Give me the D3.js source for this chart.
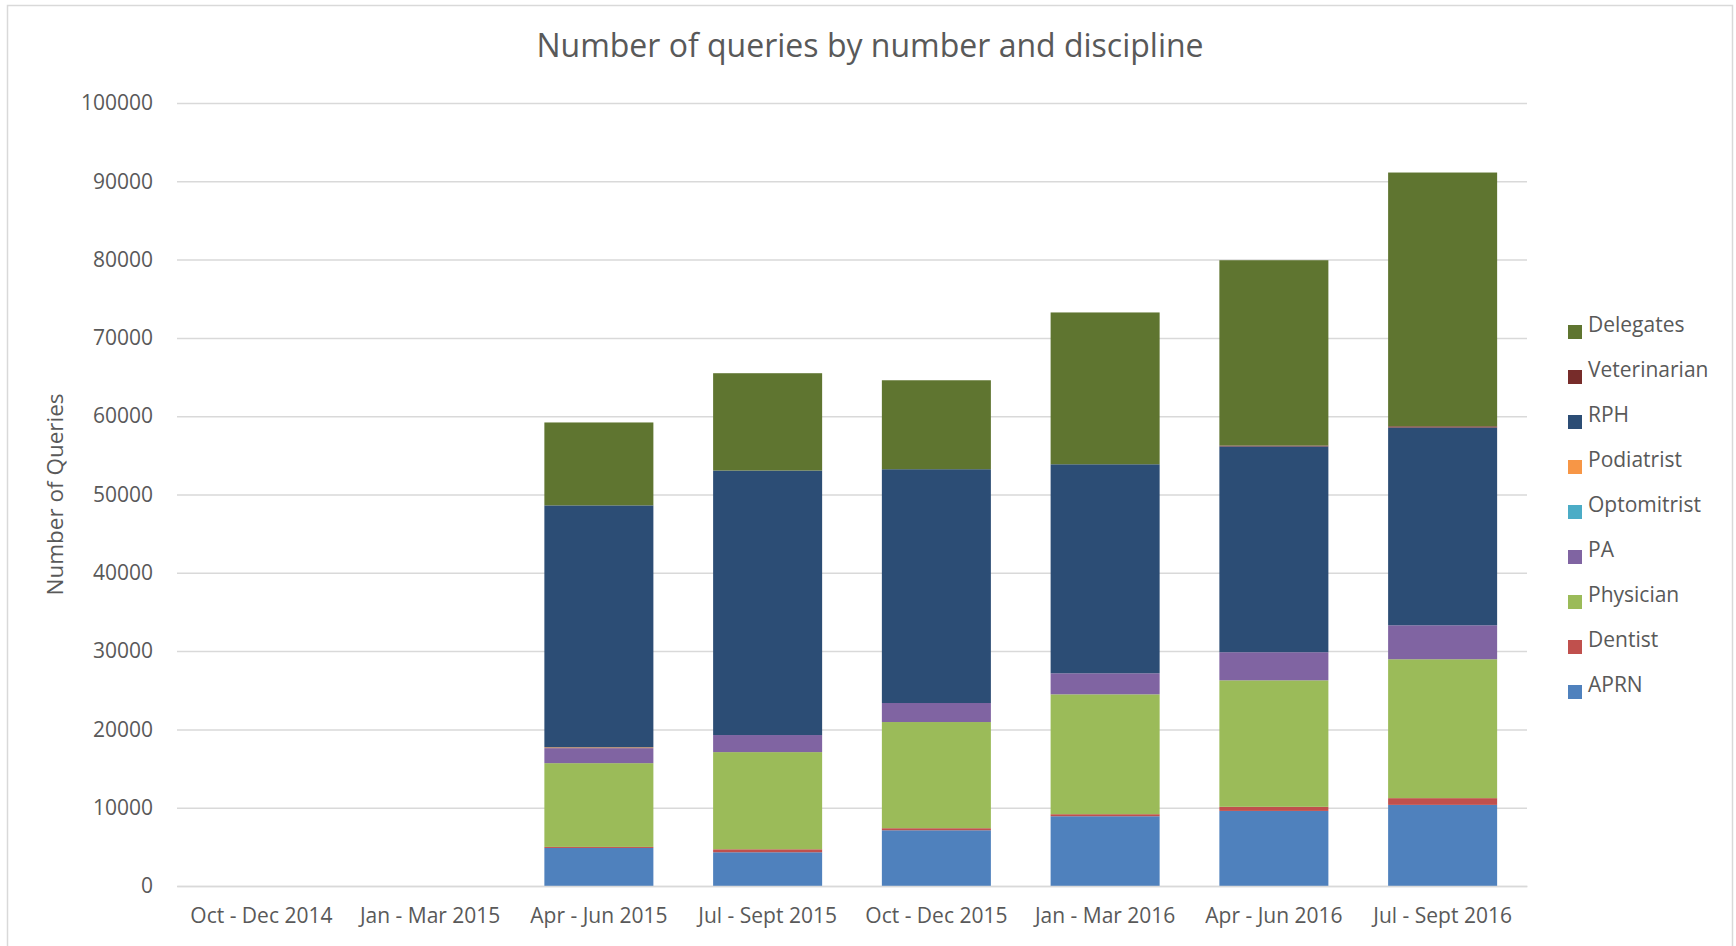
<!DOCTYPE html>
<html>
<head>
<meta charset="utf-8">
<script src="https://cdn.jsdelivr.net/npm/d3@7"></script>
<style>
  body { margin: 0; background: #fff; }
  text { font-family: "Open Sans", sans-serif; fill: #595959; }
</style>
</head>
<body>
<div id="chart"></div>
<script>
// categories along the x axis
const quarters = ['Oct - Dec 2014', 'Jan - Mar 2015', 'Apr - Jun 2015', 'Jul - Sept 2015',
  'Oct - Dec 2015', 'Jan - Mar 2016', 'Apr - Jun 2016', 'Jul - Sept 2016'];

// series, bottom of the stack first
const disciplines = ['APRN', 'Dentist', 'Physician', 'PA', 'Optomitrist', 'Podiatrist', 'RPH', 'Veterinarian', 'Delegates'];
const colors = ['#4f81bd', '#c0504d', '#9bbb59', '#8064a2', '#4bacc6', '#f79646', '#2c4d75', '#772c2a', '#5f7530'];

// values per discipline, one per quarter
const APRN         = [0, 0, 4860, 4310, 7120, 8910, 9590, 10360];
const Dentist      = [0, 0, 130, 380, 260, 260, 520, 860];
const Physician    = [0, 0, 10700, 12410, 13560, 15310, 16160, 17740];
const PA           = [0, 0, 1920, 2180, 2430, 2690, 3590, 4340];
const Optomitrist  = [0, 0, 0, 0, 0, 0, 0, 0];
const Podiatrist   = [0, 0, 100, 0, 0, 0, 0, 0];
const RPH          = [0, 0, 30900, 33780, 29860, 26690, 26280, 25260];
const Veterinarian = [0, 0, 0, 0, 0, 0, 110, 150];
const Delegates    = [0, 0, 10590, 12430, 11360, 19390, 23670, 32410];

const yTicks = [0, 10000, 20000, 30000, 40000, 50000, 60000, 70000, 80000, 90000, 100000];

const seriesValues = { APRN, Dentist, Physician, PA, Optomitrist, Podiatrist, RPH, Veterinarian, Delegates };
const data = quarters.map((q, i) => {
  const row = { quarter: q };
  disciplines.forEach(k => { row[k] = seriesValues[k][i]; });
  return row;
});

const W = 1736, H = 946;
const plot = { left: 177, right: 1527, top: 103, bottom: 886 };

const svg = d3.select('#chart').append('svg')
  .attr('width', W)
  .attr('height', H);

// chart border
svg.append('rect')
  .attr('x', 7.5).attr('y', 5.5)
  .attr('width', 1725).attr('height', 960)
  .attr('fill', 'none')
  .attr('stroke', '#d9d9d9')
  .attr('stroke-width', 1.5);

const x = d3.scaleBand()
  .domain(quarters)
  .range([plot.left, plot.right])
  .paddingInner(0.354)
  .paddingOuter(0.177);

const y = d3.scaleLinear()
  .domain([0, 100000])
  .range([plot.bottom, plot.top]);

const color = d3.scaleOrdinal().domain(disciplines).range(colors);

// gridlines + y labels
const yAxis = d3.axisLeft(y)
  .tickValues(yTicks)
  .tickSize(-(plot.right - plot.left))
  .tickPadding(24)
  .tickFormat(d3.format('d'));

const gy = svg.append('g')
  .attr('transform', `translate(${plot.left},0)`)
  .call(yAxis);
gy.select('.domain').remove();
gy.selectAll('.tick line').attr('stroke', '#d9d9d9').attr('stroke-width', 1.5);
gy.selectAll('.tick text').style('font-size', '21px').attr('fill', '#595959');

// stacked bars
const stacked = d3.stack().keys(disciplines)(data);

svg.append('g')
  .selectAll('g')
  .data(stacked)
  .join('g')
  .attr('fill', d => color(d.key))
  .selectAll('rect')
  .data(d => d)
  .join('rect')
  .attr('x', d => x(d.data.quarter))
  .attr('width', x.bandwidth())
  .attr('y', d => y(d[1]))
  .attr('height', d => y(d[0]) - y(d[1]));

// x axis
const gx = svg.append('g')
  .attr('transform', `translate(0,${plot.bottom})`)
  .call(d3.axisBottom(x).tickSize(0).tickPadding(22));
gx.select('.domain').attr('stroke', '#d9d9d9').attr('stroke-width', 1.5);
gx.selectAll('.tick text').style('font-size', '21px').attr('fill', '#595959');

// title
svg.append('text')
  .attr('x', 870)
  .attr('y', 46)
  .attr('dy', '0.35em')
  .attr('text-anchor', 'middle')
  .style('font-size', '32px')
  .text('Number of queries by number and discipline');

// y axis label
svg.append('text')
  .attr('transform', `translate(55,${(plot.top + plot.bottom) / 2}) rotate(-90)`)
  .attr('text-anchor', 'middle')
  .attr('dy', '0.35em')
  .style('font-size', '22.5px')
  .text('Number of Queries');

// legend, top entry = top of stack
const legendKeys = disciplines.slice().reverse();
const legend = svg.selectAll('.legend')
  .data(legendKeys)
  .join('g')
  .attr('class', 'legend')
  .attr('transform', (d, i) => `translate(1568,${325 + i * 45})`);

legend.append('rect')
  .attr('width', 14)
  .attr('height', 14)
  .attr('fill', d => color(d));

legend.append('text')
  .attr('x', 20)
  .attr('y', 7)
  .style('font-size', '21px')
  .text(d => d);
</script>
</body>
</html>
